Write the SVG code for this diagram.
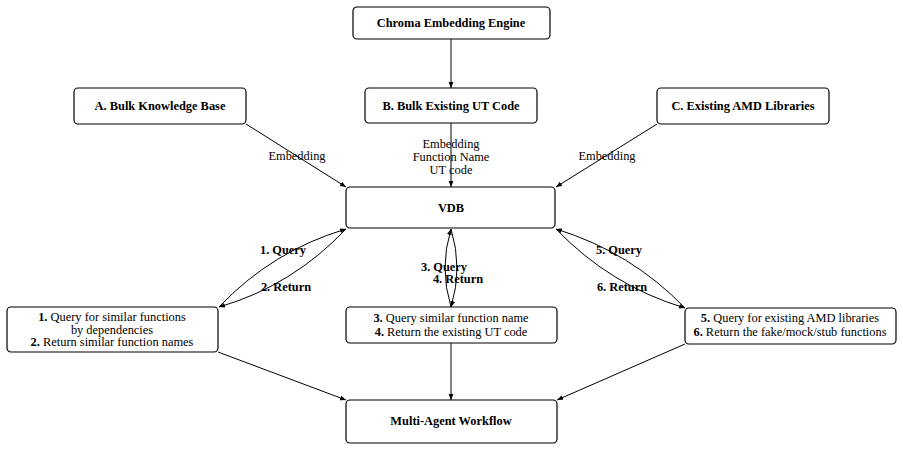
<svg xmlns="http://www.w3.org/2000/svg" width="903" height="449" viewBox="0 0 903 449">
<style>
.box{fill:#fff;stroke:#000;stroke-width:1.2}
.t{font-family:"Liberation Serif","Times New Roman",Times,serif;font-size:12.4px;fill:#000;text-anchor:middle}
.b{font-weight:bold}
.e{stroke:#000;stroke-width:1;fill:none;marker-end:url(#ah)}
</style>
<defs>
<marker id="ah" viewBox="0 0 10 10" refX="10" refY="5" markerWidth="6" markerHeight="6" orient="auto" markerUnits="userSpaceOnUse">
<path d="M0,1 L10,5 L0,9 z" fill="#000"/>
</marker>
</defs>
<rect width="903" height="449" fill="#fff"/>
<g id="connectors">
<path class="e" d="M451,39 L451,88"/>
<path class="e" d="M451,123 L451,187"/>
<path class="e" d="M246,124 L346,187"/>
<path class="e" d="M657,124 L556,187"/>
<path class="e" d="M219,307 Q272,251 346,229"/>
<path class="e" d="M346,229 Q292,286 219,307"/>
<path class="e" d="M451,307 Q439,268 451,229"/>
<path class="e" d="M451,229 Q463,268 451,307"/>
<path class="e" d="M685,308 Q631,252 556,229"/>
<path class="e" d="M556,229 Q611,286 685,308"/>
<path class="e" d="M218,352 L346,400"/>
<path class="e" d="M451,343 L451,400"/>
<path class="e" d="M685,344 L557,400"/>
<text class="t" x="297" y="160">Embedding</text>
<text class="t" x="607" y="160">Embedding</text>
<text class="t" x="451" y="148">Embedding</text>
<text class="t" x="451" y="161">Function Name</text>
<text class="t" x="451" y="174">UT code</text>
<text class="t b" x="283" y="254">1. Query</text>
<text class="t b" x="286" y="291">2. Return</text>
<text class="t b" x="444" y="271">3. Query</text>
<text class="t b" x="458" y="283">4. Return</text>
<text class="t b" x="619" y="254">5. Query</text>
<text class="t b" x="622" y="291">6. Return</text>
</g>
<g id="chroma"><rect class="box" x="353" y="7" width="197" height="32" rx="4"/><text class="t b" x="451" y="27">Chroma Embedding Engine</text></g>
<g id="nodeA"><rect class="box" x="74" y="88" width="172" height="36" rx="4"/><text class="t b" x="160" y="110">A. Bulk Knowledge Base</text></g>
<g id="nodeB"><rect class="box" x="365" y="88" width="172" height="35" rx="4"/><text class="t b" x="451" y="110">B. Bulk Existing UT Code</text></g>
<g id="nodeC"><rect class="box" x="657" y="88" width="172" height="36" rx="4"/><text class="t b" x="743" y="110">C. Existing AMD Libraries</text></g>
<g id="vdb"><rect class="box" x="346" y="187" width="209" height="41" rx="4"/><text class="t b" x="451" y="212">VDB</text></g>
<g id="left"><rect class="box" x="7" y="307" width="211" height="45" rx="4"/>
<text class="t" x="112" y="321"><tspan class="b">1.</tspan> Query for similar functions</text>
<text class="t" x="112" y="333.5">by dependencies</text>
<text class="t" x="112" y="346"><tspan class="b">2.</tspan> Return similar function names</text></g>
<g id="mid"><rect class="box" x="346" y="307" width="211" height="36" rx="4"/>
<text class="t" x="451" y="322"><tspan class="b">3.</tspan> Query similar function name</text>
<text class="t" x="451" y="336"><tspan class="b">4.</tspan> Return the existing UT code</text></g>
<g id="right"><rect class="box" x="685" y="308" width="211" height="36" rx="4"/>
<text class="t" x="790" y="322"><tspan class="b">5.</tspan> Query for existing AMD libraries</text>
<text class="t" x="790" y="336"><tspan class="b">6.</tspan> Return the fake/mock/stub functions</text></g>
<g id="multi"><rect class="box" x="346" y="400" width="211" height="43" rx="4"/><text class="t b" x="451" y="425">Multi-Agent Workflow</text></g>
</svg>
